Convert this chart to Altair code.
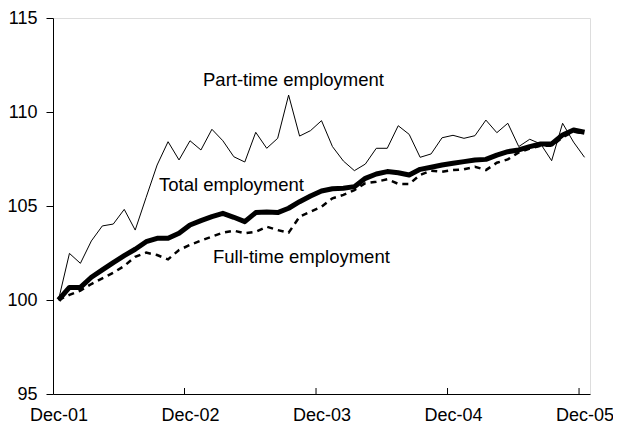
import json
import altair as alt
import pandas as pd

# Monthly index values, Dec-01 = 100 (49 months: Dec-01 .. Dec-05)
part_time = [100.0, 102.48, 101.95, 103.14, 103.94, 104.04, 104.82, 103.72, 105.46, 107.18,
             108.42, 107.45, 108.47, 107.98, 109.08, 108.47, 107.62, 107.34, 108.92, 108.07,
             108.60, 110.90, 108.72, 109.01, 109.54, 108.16, 107.39, 106.88, 107.23, 108.07,
             108.07, 109.27, 108.81, 107.59, 107.77, 108.63, 108.76, 108.60, 108.74, 109.57,
             108.90, 109.40, 108.16, 108.55, 108.30, 107.41, 109.40, 108.40, 107.59]
total = [100.0, 100.67, 100.67, 101.21, 101.60, 101.99, 102.36, 102.70, 103.10, 103.28,
         103.28, 103.55, 103.99, 104.22, 104.43, 104.61, 104.40, 104.17, 104.65, 104.68,
         104.65, 104.88, 105.23, 105.53, 105.80, 105.92, 105.94, 106.03, 106.47, 106.70,
         106.83, 106.77, 106.65, 106.95, 107.06, 107.18, 107.27, 107.36, 107.45, 107.48,
         107.71, 107.89, 107.98, 108.16, 108.30, 108.30, 108.78, 109.04, 108.92]
full_time = [100.0, 100.27, 100.50, 100.85, 101.15, 101.45, 101.81, 102.30, 102.52, 102.39,
             102.16, 102.66, 102.93, 103.16, 103.37, 103.58, 103.69, 103.55, 103.63, 103.90,
             103.72, 103.58, 104.43, 104.70, 104.96, 105.41, 105.59, 105.85, 106.21, 106.29,
             106.42, 106.18, 106.17, 106.65, 106.88, 106.82, 106.91, 106.95, 107.09, 106.91,
             107.30, 107.48, 107.85, 108.05, 108.20, 108.20, 108.65, 108.95, 108.85]

tick_labels = ["Dec-01", "Dec-02", "Dec-03", "Dec-04", "Dec-05"]
label_pos = [0, 12, 24, 36, 48]
tick_pos = [11.5, 23.5, 35.5, 47.5]
y_ticks = [95, 100, 105, 110, 115]

ann_text = ["Part-time employment", "Total employment", "Full-time employment"]
ann_x = [13.19, 9.17, 14.1]
ann_y = [111.7, 106.12, 102.29]

FONT = "Liberation Sans"
W, H = 537, 376

idx = list(range(len(total)))
df_pt = pd.DataFrame({"idx": idx, "value": part_time})
df_tot = pd.DataFrame({"idx": idx, "value": total})
df_ft = pd.DataFrame({"idx": idx, "value": full_time})
df_ticks = pd.DataFrame({"idx": tick_pos})
df_ann = pd.DataFrame({"idx": ann_x, "value": ann_y, "text": ann_text})

label_expr = json.dumps(tick_labels) + "[round(datum.value/12)]"

x_enc = alt.X(
    "idx:Q",
    scale=alt.Scale(domain=[-0.5, 48.5], nice=False, zero=False),
    axis=alt.Axis(values=label_pos, labelExpr=label_expr, ticks=False, grid=False,
                  title=None, labelFontSize=18, labelPadding=12, labelFont=FONT,
                  labelColor="black", domainColor="black", labelFlush=False),
)
y_enc = alt.Y(
    "value:Q",
    scale=alt.Scale(domain=[95, 115], nice=False, zero=False),
    axis=alt.Axis(values=y_ticks, tickSize=7, labelPadding=9, grid=False, title=None,
                  labelFontSize=18, labelFont=FONT, labelColor="black",
                  domainColor="black", tickColor="black"),
)

pt = alt.Chart(df_pt).mark_line(color="black", strokeWidth=1).encode(x=x_enc, y=y_enc)
ft = alt.Chart(df_ft).mark_line(color="black", strokeWidth=2.5, strokeDash=[6, 5]).encode(x="idx:Q", y="value:Q")
tot = alt.Chart(df_tot).mark_line(color="black", strokeWidth=5, strokeJoin="round").encode(x="idx:Q", y="value:Q")
ticks = alt.Chart(df_ticks).mark_rule(color="black", strokeWidth=1).encode(
    x="idx:Q", y=alt.value(H), y2=alt.value(H - 6))
ann = alt.Chart(df_ann).mark_text(align="left", baseline="middle", fontSize=18.5, font=FONT,
                                  color="black").encode(x="idx:Q", y="value:Q", text="text:N")

chart = alt.layer(pt, ft, tot, ticks, ann).properties(
    width=W, height=H,
    autosize=alt.AutoSizeParams(type="none"),
    padding={"left": 45, "top": 10, "right": 23, "bottom": 34},
).configure_view(stroke="black", strokeWidth=1).configure(background="white")

chart.save("out.html", embed_options={"renderer": "svg", "actions": False})
